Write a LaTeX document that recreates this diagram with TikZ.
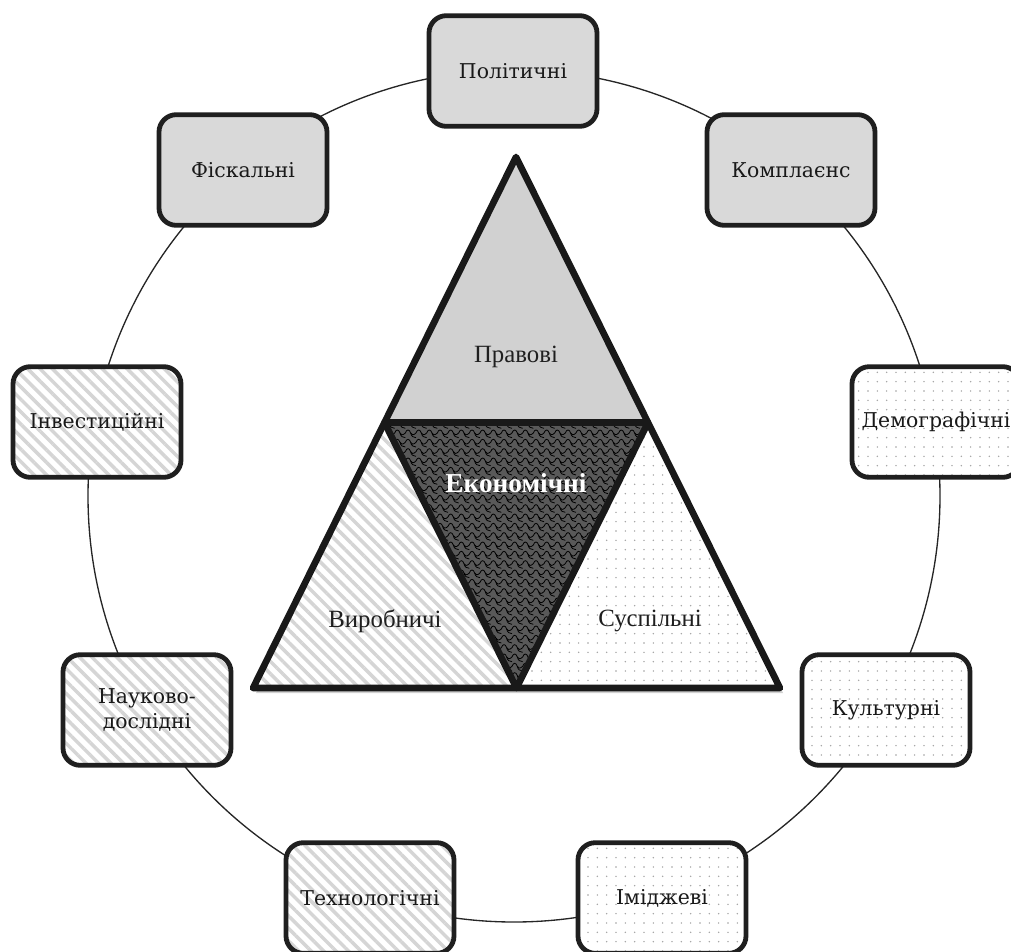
\documentclass[tikz,border=0pt]{standalone}
\usepackage{fontspec}
\setmainfont{Liberation Serif}
\newfontfamily\boxfont{DejaVu Serif}
\usetikzlibrary{patterns.meta}

\tikzdeclarepattern{
  name=scales,
  type=uncolored,
  bounding box={(-0.5pt,-0.5pt) and (8.5pt,7.5pt)},
  tile size={(8pt,7pt)},
  code={
    \draw[line width=0.6pt] (0pt,3.5pt) .. controls (1pt,6.5pt) and (3pt,6.5pt) .. (4pt,3.5pt)
      .. controls (4.5pt,2pt) and (6pt,1.5pt) .. (8pt,3.5pt);
    \draw[line width=0.6pt] (4pt,3.5pt) .. controls (4.5pt,1pt) and (6pt,0pt) .. (8pt,0pt);
  }
}

\begin{document}
\begin{tikzpicture}[x=0.75pt,y=-0.75pt,
  ring/.style={draw=black!85, line width=1pt},
  box/.style={draw=black!88, line width=3.6pt, rounded corners=13pt,
    minimum width=126pt, minimum height=83pt, align=center, inner sep=0pt,
    font=\boxfont\fontsize{15.3}{19}\selectfont, text=black!90},
  greybox/.style={box, fill=gray!30},
  stripes/.style={preaction={fill=white},
    pattern={Lines[angle=-45, distance=6.6pt, line width=2.6pt]}, pattern color=gray!33},
  dots/.style={preaction={fill=white},
    pattern={Dots[distance=7pt, radius=0.6pt]}, pattern color=gray!75},
  stripebox/.style={box, stripes},
  dotbox/.style={box, dots},
  tri/.style={draw=black!90, line width=5pt, line join=round},
  trilabel/.style={font=\fontsize{18.6}{22}\selectfont, text=black!88},
]
\useasboundingbox (0,0) rectangle (1011,951);

% ring behind the boxes
\coordinate (c) at (514,496);
\draw[ring] (c) circle[radius=319.5pt];

% boxes
\node[greybox]   (pol) at (513,71)  {Політичні};
\node[greybox]   (fis) at (243,170) {Фіскальні};
\node[greybox]   (kom) at (791,170) {Комплаєнс};
\node[dotbox]    (dem) at (936,422) {Демографічні};
\node[stripebox] (inv) at (97,422)  {Інвестиційні};
\node[stripebox] (nau) at (147,710) {Науково-\\дослідні};
\node[dotbox]    (kul) at (886,710) {Культурні};
\node[stripebox] (tex) at (370,898) {Технологічні};
\node[dotbox]    (imi) at (662,898) {Іміджеві};

% triangle geometry
\coordinate (A)  at (516,157);
\coordinate (BL) at (253,688);
\coordinate (BR) at (780,688);
\coordinate (Lm) at (384.5,422.5);
\coordinate (Rm) at (648,422.5);
\coordinate (Bm) at (516.5,688);

% shadow
\fill[black!40, opacity=0.45] ([shift={(3,5)}]A) -- ([shift={(3,5)}]BR) -- ([shift={(3,5)}]BL) -- cycle;

% sub-triangles
\fill[gray!36] (A) -- (Rm) -- (Lm) -- cycle;
\path[stripes] (Lm) -- (Bm) -- (BL) -- cycle;
\path[dots] (Rm) -- (BR) -- (Bm) -- cycle;
\path[preaction={fill=black!65}, pattern=scales, pattern color=black]
  (Lm) -- (Rm) -- (Bm) -- cycle;

% outlines
\draw[tri] (A) -- (BR) -- (BL) -- cycle;
\draw[tri] (Lm) -- (Rm) -- (Bm) -- cycle;

% labels
\node[trilabel] (prav) at (516,357) {Правові};
\node[trilabel, font=\fontsize{20.5}{24}\selectfont\bfseries, text=white] (ekon) at (516,483) {Економічні};
\node[trilabel] (vyr) at (385,621) {Виробничі};
\node[trilabel] (sus) at (650,621) {Суспільні};
\end{tikzpicture}
\end{document}
